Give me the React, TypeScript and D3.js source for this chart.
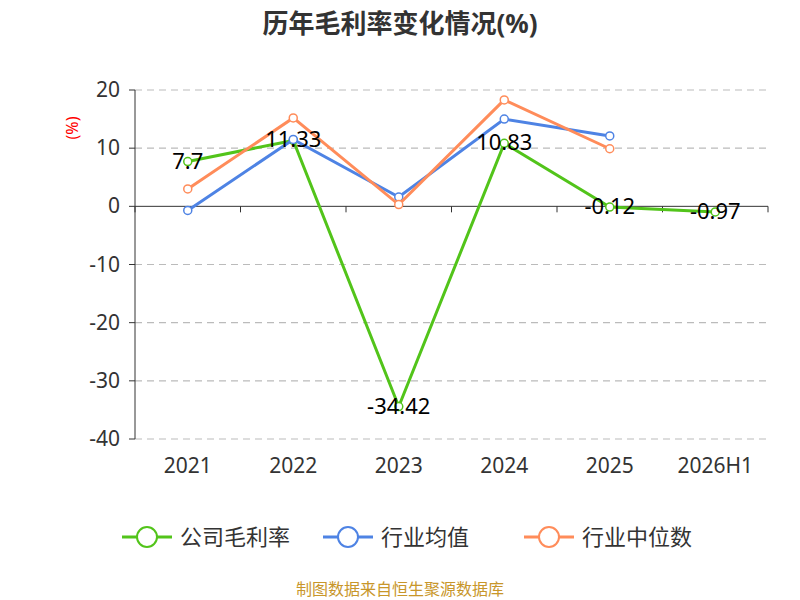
import React from "react";
import * as d3 from "d3";

const categories = ["2021", "2022", "2023", "2024", "2025", "2026H1"];
const company = [7.7, 11.33, -34.42, 10.83, -0.12, -0.97];
const industryAvg: (number | null)[] = [-0.7, 11.5, 1.6, 15.0, 12.1, null];
const industryMedian: (number | null)[] = [3.0, 15.2, 0.3, 18.3, 9.9, null];
const yTicks = [20, 10, 0, -10, -20, -30, -40];
const seriesNames = ["公司毛利率", "行业均值", "行业中位数"];
const colors = ["#52c41a", "#4e83e4", "#ff8c5a"];

export default function App() {
  const x = d3.scaleBand().domain(categories).range([135, 768]);
  const y = d3.scaleLinear().domain([-40, 20]).range([439, 90]);
  const cx = (c: string) => (x(c) as number) + x.bandwidth() / 2;
  const line = d3
    .line<number | null>()
    .defined((d) => d !== null)
    .x((_, i) => cx(categories[i]))
    .y((d) => y(d as number));
  const series = [company, industryAvg, industryMedian];
  const font = "'Noto Sans', 'Noto Sans CJK SC', sans-serif";
  return (
    <svg width={800} height={600} style={{ position: "absolute", left: 0, top: 0 }} fontFamily={font}>
      <rect width={800} height={600} fill="#fff" />
      <text x={400} y={33} textAnchor="middle" fontSize={26} fontWeight="bold" fill="#333">
        历年毛利率变化情况(%)
      </text>
      {yTicks.map((t) => (
        <g key={t}>
          {t !== 0 && (
            <line x1={135} x2={768} y1={y(t)} y2={y(t)} stroke="#bbb" strokeWidth={1.2} strokeDasharray="7,5" />
          )}
          <line x1={129} x2={135} y1={y(t)} y2={y(t)} stroke="#333" />
          <text x={120} y={y(t) + 7} textAnchor="end" fontSize={21} fill="#333">
            {t}
          </text>
        </g>
      ))}
      <line x1={135} x2={135} y1={90} y2={439} stroke="#333" />
      <line x1={135} x2={768} y1={y(0)} y2={y(0)} stroke="#333" />
      {categories.map((c) => (
        <line key={c} x1={x(c)!} x2={x(c)!} y1={y(0)} y2={y(0) + 6} stroke="#333" />
      ))}
      <line x1={768} x2={768} y1={y(0)} y2={y(0) + 6} stroke="#333" />
      {categories.map((c) => (
        <text key={c} x={cx(c)} y={473} textAnchor="middle" fontSize={21} fill="#333">
          {c}
        </text>
      ))}
      <text transform="translate(78,128) rotate(-90)" textAnchor="middle" fontSize={16} fill="red">
        (%)
      </text>
      {series.map((s, k) => (
        <g key={k}>
          <path d={line(s) || ""} fill="none" stroke={colors[k]} strokeWidth={3} />
          {s.map((v, i) =>
            v === null ? null : (
              <circle key={i} cx={cx(categories[i])} cy={y(v)} r={4} fill="#fff" stroke={colors[k]} strokeWidth={1.5} />
            )
          )}
        </g>
      ))}
      {company.map((v, i) => (
        <text key={i} x={cx(categories[i])} y={y(v) + 7} textAnchor="middle" fontSize={22} fill="#000">
          {v}
        </text>
      ))}
      {seriesNames.map((n, k) => {
        const lx = [122, 323, 524][k];
        return (
          <g key={n}>
            <line x1={lx} x2={lx + 50} y1={537} y2={537} stroke={colors[k]} strokeWidth={3} />
            <circle cx={lx + 25} cy={537} r={10} fill="#fff" stroke={colors[k]} strokeWidth={2} />
            <text x={lx + 58} y={545} fontSize={22} fill="#333">{n}</text>
          </g>
        );
      })}
      <text x={400} y={595} textAnchor="middle" fontSize={16} fill="#c8962a">
        制图数据来自恒生聚源数据库
      </text>
    </svg>
  );
}
